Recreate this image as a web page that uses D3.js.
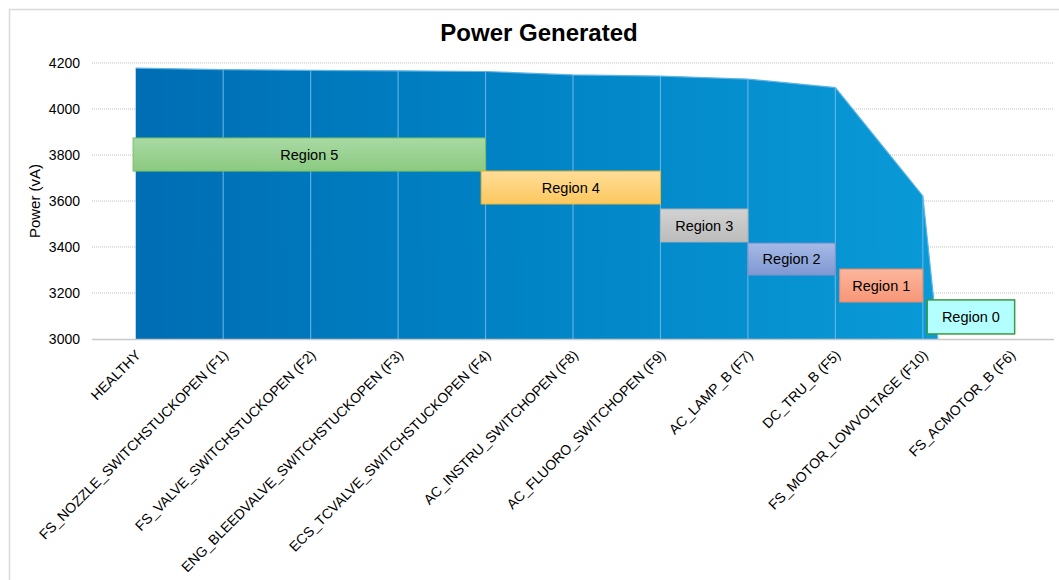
<!DOCTYPE html>
<html lang="en">
<head>
    <meta charset="UTF-8">
    <title>Power Generated</title>
    <script src="https://cdnjs.cloudflare.com/ajax/libs/d3/7.8.5/d3.min.js"></script>
    <style>
        body {
            margin: 0;
            font-family: "Liberation Sans", Arial, sans-serif;
            background: #fff;
        }
        text {
            font-family: "Liberation Sans", Arial, sans-serif;
            fill: #000;
        }
        .grid line {
            stroke: #bfbfbf;
            stroke-dasharray: 1,1;
        }
        .axis path, .axis line {
            fill: none;
        }
    </style>
</head>
<body>
<script>
    var categories = ["HEALTHY", "FS_NOZZLE_SWITCHSTUCKOPEN (F1)", "FS_VALVE_SWITCHSTUCKOPEN (F2)",
        "ENG_BLEEDVALVE_SWITCHSTUCKOPEN (F3)", "ECS_TCVALVE_SWITCHSTUCKOPEN (F4)", "AC_INSTRU_SWITCHOPEN (F8)",
        "AC_FLUORO_SWITCHOPEN (F9)", "AC_LAMP_B (F7)", "DC_TRU_B (F5)", "FS_MOTOR_LOWVOLTAGE (F10)", "FS_ACMOTOR_B (F6)"];
    var power = [4178, 4171, 4168, 4166, 4163, 4148, 4143, 4130, 4093, 3622, 0];
    var yTicks = [3000, 3200, 3400, 3600, 3800, 4000, 4200];

    var regionNames = ["Region 5", "Region 4", "Region 3", "Region 2", "Region 1", "Region 0"];
    var regionFrom = [-0.03, 3.95, 6, 7, 8.05, 9.05];   // category index
    var regionTo = [4, 6, 7, 8, 9, 10.05];
    var regionTop = [3874, 3730, 3565, 3417, 3304, 3170];
    var regionBottom = [3730, 3587, 3422, 3278, 3161, 3022];

    var regionFill = [["#a9d9a4", "#8bca80"], ["#ffdd98", "#fcc85f"], ["#d2d2d2", "#bcbcbc"],
        ["#a6bae6", "#7f98d2"], ["#fbb69c", "#f89677"], ["#b3ffff", "#b3ffff"]];
    var regionStroke = ["#74c064", "#f0b632", "#b4b4b4", "#7891cc", "#f08a66", "#3a9a3e"];

    var W = 1059, H = 580;
    var margin = {left: 92, right: 5, top: 63, bottom: 241};
    var width = W - margin.left - margin.right,
        height = H - margin.top - margin.bottom;

    var svg = d3.select("body").append("svg")
        .attr("width", W)
        .attr("height", H);

    // outer chart border
    svg.append("rect")
        .attr("x", 9.5).attr("y", 9.5)
        .attr("width", W + 20).attr("height", H + 20)
        .attr("fill", "none")
        .attr("stroke", "#d9d9d9")
        .attr("stroke-width", 1.5);

    svg.append("text")
        .attr("x", 539).attr("y", 41)
        .attr("text-anchor", "middle")
        .style("font-size", "24px")
        .style("font-weight", "bold")
        .text("Power Generated");

    var g = svg.append("g")
        .attr("transform", "translate(" + margin.left + "," + margin.top + ")");

    var band = d3.scaleBand().domain(categories).range([0, width]);
    var xi = d3.scaleLinear().domain([0, categories.length - 1])
        .range([band.bandwidth() / 2, width - band.bandwidth() / 2]);
    var y = d3.scaleLinear().domain([3000, 4200]).range([height, 0]);

    // gridlines
    g.append("g").attr("class", "grid")
        .selectAll("line")
        .data(yTicks.filter(function (d) { return d > 3000; }))
        .enter().append("line")
        .attr("x1", 0).attr("x2", width)
        .attr("y1", function (d) { return y(d); })
        .attr("y2", function (d) { return y(d); });

    var defs = svg.append("defs");
    var grad = defs.append("linearGradient")
        .attr("id", "areaGrad")
        .attr("gradientUnits", "userSpaceOnUse")
        .attr("x1", xi(0)).attr("x2", xi(9.2)).attr("y1", 0).attr("y2", 0);
    grad.append("stop").attr("offset", "0%").attr("stop-color", "#006db4");
    grad.append("stop").attr("offset", "45%").attr("stop-color", "#0082c4");
    grad.append("stop").attr("offset", "100%").attr("stop-color", "#0a9ad8");

    defs.append("clipPath").attr("id", "plotClip")
        .append("rect").attr("x", 0).attr("y", -5).attr("width", width).attr("height", height + 5);

    var pts = power.map(function (d, i) { return [i, d]; });

    var area = d3.area()
        .x(function (d) { return xi(d[0]); })
        .y0(y(3000))
        .y1(function (d) { return y(d[1]); });

    var plot = g.append("g").attr("clip-path", "url(#plotClip)");

    plot.append("path")
        .datum(pts)
        .attr("d", area)
        .attr("fill", "url(#areaGrad)");

    plot.append("path")
        .datum(pts)
        .attr("d", d3.line().x(function (d) { return xi(d[0]); }).y(function (d) { return y(d[1]); }))
        .attr("fill", "none")
        .attr("stroke", "#5fb4e6")
        .attr("stroke-width", 1.2);

    // drop lines
    plot.selectAll(".drop")
        .data(pts.slice(1, 10))
        .enter().append("line")
        .attr("class", "drop")
        .attr("x1", function (d) { return xi(d[0]); })
        .attr("x2", function (d) { return xi(d[0]); })
        .attr("y1", function (d) { return y(d[1]); })
        .attr("y2", height)
        .attr("stroke", "#6fbdea")
        .attr("stroke-opacity", 0.8)
        .attr("stroke-width", 1.2);

    // axes
    var yAxis = d3.axisLeft(y).tickValues(yTicks).tickFormat(d3.format("d")).tickSize(0).tickPadding(12);
    g.append("g").attr("class", "axis")
        .call(yAxis)
        .call(function (s) { s.select(".domain").remove(); })
        .selectAll("text")
        .style("font-size", "14px")
        .attr("fill", "#000");

    g.append("line")
        .attr("x1", 0).attr("x2", width)
        .attr("y1", height + 0.5).attr("y2", height + 0.5)
        .attr("stroke", "#c8c8c8")
        .attr("stroke-width", 1.5);

    var xAxis = d3.axisBottom(band).tickSize(0).tickPadding(0);
    g.append("g").attr("class", "axis")
        .attr("transform", "translate(0," + height + ")")
        .call(xAxis)
        .call(function (s) { s.select(".domain").remove(); })
        .selectAll("text")
        .style("font-size", "14px")
        .attr("fill", "#000")
        .attr("text-anchor", "end")
        .attr("dy", "0")
        .attr("transform", "translate(6,17) rotate(-45)");

    svg.append("text")
        .attr("transform", "translate(40," + (margin.top + y(3600)) + ") rotate(-90)")
        .attr("text-anchor", "middle")
        .style("font-size", "15px")
        .text("Power (vA)");

    // region boxes
    regionFill.forEach(function (c, i) {
        var rg = defs.append("linearGradient")
            .attr("id", "rg" + i)
            .attr("x1", 0).attr("x2", 0).attr("y1", 0).attr("y2", 1);
        rg.append("stop").attr("offset", "0%").attr("stop-color", c[0]);
        rg.append("stop").attr("offset", "100%").attr("stop-color", c[1]);
    });

    var boxes = g.selectAll(".region")
        .data(regionNames)
        .enter().append("g")
        .attr("class", "region");

    boxes.append("rect")
        .attr("x", function (d, i) { return xi(regionFrom[i]); })
        .attr("y", function (d, i) { return y(regionTop[i]); })
        .attr("width", function (d, i) { return xi(regionTo[i]) - xi(regionFrom[i]); })
        .attr("height", function (d, i) { return y(regionBottom[i]) - y(regionTop[i]); })
        .attr("fill", function (d, i) { return "url(#rg" + i + ")"; })
        .attr("stroke", function (d, i) { return regionStroke[i]; })
        .attr("stroke-width", function (d, i) { return i === 5 ? 1.5 : 1; });

    boxes.append("text")
        .attr("x", function (d, i) { return (xi(regionFrom[i]) + xi(regionTo[i])) / 2; })
        .attr("y", function (d, i) { return (y(regionTop[i]) + y(regionBottom[i])) / 2; })
        .attr("dy", "0.35em")
        .attr("text-anchor", "middle")
        .style("font-size", "14.5px")
        .text(function (d) { return d; });
</script>
</body>
</html>
